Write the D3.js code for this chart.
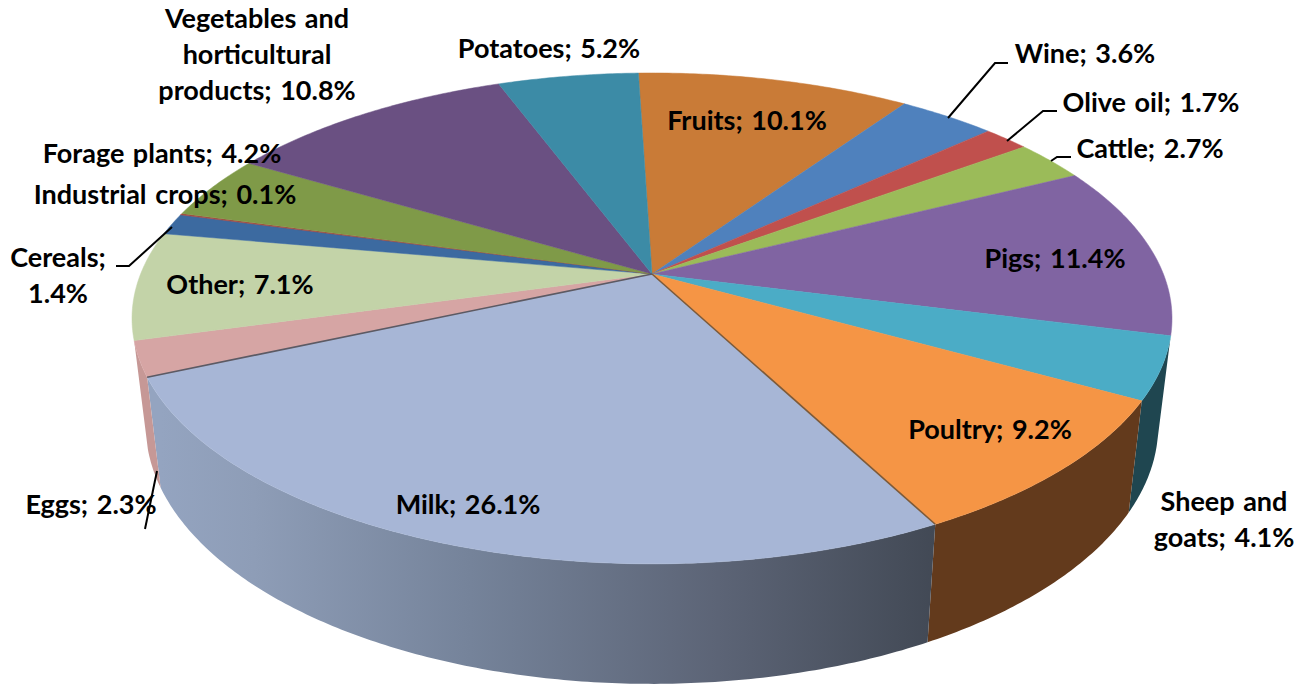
<!DOCTYPE html>
<html>
<head>
<meta charset="utf-8">
<script src="https://cdn.jsdelivr.net/npm/d3@7"></script>
<style>
  html, body { margin: 0; background: #fff; }
  svg { display: block; }
  .label { font-family: Lato, "Open Sans", sans-serif; font-weight: 700; font-size: 27px; fill: #000; text-anchor: middle; word-spacing: 2px; }
  .leader { fill: none; stroke: #000; stroke-width: 2px; }
</style>
</head>
<body>
<div id="chart-area"></div>
<script>
// Data, clockwise from the top of the pie
let categories = ["Fruits", "Wine", "Olive oil", "Cattle", "Pigs", "Sheep and goats", "Poultry", "Milk",
    "Eggs", "Other", "Cereals", "Industrial crops", "Forage plants", "Vegetables and horticultural products", "Potatoes"];
let shares = [10.1, 3.6, 1.7, 2.7, 11.4, 4.1, 9.2, 26.1, 2.3, 7.1, 1.4, 0.1, 4.2, 10.8, 5.2];

// Line breaks of the wrapped labels
let wrappedNames = {
    "Sheep and goats": ["Sheep and", "goats;"],
    "Vegetables and horticultural products": ["Vegetables and", "horticultural", "products;"],
    "Cereals": ["Cereals;", ""]
};

// Styles and label layout, same order as categories
let topColors = ["#c97b37", "#4f81bd", "#c0504d", "#9bbb59", "#8064a2", "#4bacc6", "#f59545", "#a7b6d6",
    "#d6a5a4", "#c3d3a8", "#3c6aa0", "#a5443f", "#7f9a48", "#6a5082", "#3c8ba6"];
let labelX = [747, 1085, 1151, 1150, 1055, 1224, 990, 468, 91, 240, 58, 165, 162, 257, 549];
let labelY = [130, 63, 112, 158, 268, 511, 439, 514, 514, 294, 267, 204, 163, 28, 58];
let lineStep = 36;

// Leader lines
let leaders = [
    [[948, 118], [995, 63], [1008, 63]],
    [[1007, 141], [1043, 111], [1057, 111]],
    [[1051, 161], [1057, 157], [1071, 157]],
    [[172, 227], [129, 266], [116, 266]],
    [[157, 471], [145, 529]]
];

// Perspective rings of the pie: the top face and the bottom edge of the wall
let width = 1312, height = 686;
let topRing = {cx: 652, cy: 274, a: 511.4, b: 237.4, k: 0.181};
let bottomRing = {cx: 652, cy: 379, a: 498, b: 250, k: 0.18};
let startAngle = -1.8 * Math.PI / 180;

function project(angle, ring) {
    let u = Math.sin(angle), v = -Math.cos(angle), w = 1 - ring.k * v;
    return [ring.cx + ring.a * u / w, ring.cy + ring.b * v / w];
}

function arcPoints(d, ring) {
    let n = Math.max(2, Math.ceil((d.endAngle - d.startAngle) / 0.01));
    return d3.range(n + 1).map(i => project(d.startAngle + (d.endAngle - d.startAngle) * i / n, ring));
}

let svg = d3.select("#chart-area").append("svg")
    .attr("width", width)
    .attr("height", height);

let slices = d3.pie()
    .sort(null)
    .value(d => d)
    .startAngle(startAngle)
    .endAngle(startAngle + 2 * Math.PI)(shares);

let line = d3.line();

// Gradient on the Milk wall
let milkWall = slices[categories.indexOf("Milk")];
let milkGradient = svg.append("defs").append("linearGradient")
    .attr("id", "milk-wall")
    .attr("gradientUnits", "userSpaceOnUse")
    .attr("x1", project(milkWall.endAngle, bottomRing)[0])
    .attr("x2", project(milkWall.startAngle, topRing)[0])
    .attr("y1", 0)
    .attr("y2", 0);
milkGradient.selectAll("stop")
    .data([[0, "#94a4c0"], [0.12, "#8e9db7"], [0.4, "#75839a"], [0.72, "#5c6476"], [1, "#424955"]])
    .join("stop")
    .attr("offset", d => d[0])
    .attr("stop-color", d => d[1]);

// Walls, only the slices that face the viewer
let wallFills = {"Sheep and goats": "#1f4650", "Poultry": "#633a1c", "Milk": "url(#milk-wall)", "Eggs": "#c69896"};
svg.append("g").selectAll("path")
    .data(slices.filter(d => wallFills[categories[d.index]]))
    .join("path")
    .attr("d", d => line(arcPoints(d, topRing).concat(arcPoints(d, bottomRing).reverse())) + "Z")
    .attr("fill", d => wallFills[categories[d.index]]);

// Top face
svg.append("g").selectAll("path")
    .data(slices)
    .join("path")
    .attr("d", d => line([[topRing.cx, topRing.cy]].concat(arcPoints(d, topRing))) + "Z")
    .attr("fill", d => topColors[d.index])
    .attr("stroke", d => topColors[d.index])
    .attr("stroke-width", 0.5);

// Dark seams on both sides of the Milk slice
let seams = [
    {angle: milkWall.startAngle, color: "#7d5a38"},
    {angle: milkWall.endAngle, color: "#5b5a64"}
];
svg.append("g").selectAll("path")
    .data(seams)
    .join("path")
    .attr("d", d => line([[topRing.cx, topRing.cy], project(d.angle, topRing)]))
    .attr("stroke", d => d.color)
    .attr("stroke-width", 1.6)
    .attr("fill", "none");

// Leader lines
svg.append("g").selectAll("path")
    .data(leaders)
    .join("path")
    .attr("class", "leader")
    .attr("d", d => line(d));

// Labels
let labels = svg.append("g").selectAll("text")
    .data(categories)
    .join("text")
    .attr("class", "label")
    .attr("x", (d, i) => labelX[i])
    .attr("y", (d, i) => labelY[i]);

labels.each(function(d, i) {
    let lines = (wrappedNames[d] || [d + ";"]).slice();
    let last = lines.length - 1;
    lines[last] = (lines[last] + " " + shares[i].toFixed(1) + "%").trim();
    d3.select(this).selectAll("tspan")
        .data(lines)
        .join("tspan")
        .attr("x", labelX[i])
        .attr("dy", (t, j) => j === 0 ? 0 : lineStep)
        .text(t => t);
});
</script>
</body>
</html>
